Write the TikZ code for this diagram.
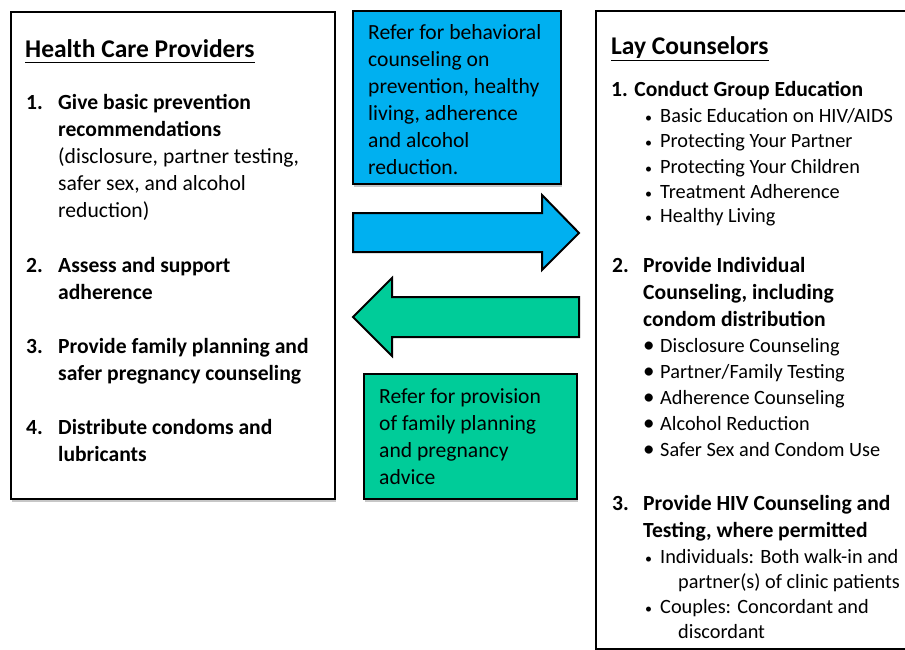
\documentclass[tikz,border=0pt]{standalone}
\usepackage{fontspec}
\setmainfont{Carlito}
\usetikzlibrary{shadows}
\definecolor{referblue}{RGB}{0,176,240}
\definecolor{refergreen}{RGB}{0,204,153}
\newcommand\bodysize{\fontsize{21.6}{27}\selectfont}
\newcommand\listsize{\fontsize{20.3}{25.3}\selectfont}
\newcommand\headsize{\fontsize{25.5}{27}\selectfont}

\begin{document}
\begin{tikzpicture}[x=1pt,y=-1pt,
  panel/.style={draw=black, line width=2pt, fill=white, anchor=north west, inner sep=0pt},
  boxshadow/.style={drop shadow={shadow xshift=1pt, shadow yshift=-2.5pt, fill=black, opacity=0.22}},
  blockarrow/.style={draw=black, line width=2pt, line join=miter},
  hd/.style={anchor=base west, inner sep=0pt, font=\headsize\bfseries},
  num/.style={anchor=base west, inner sep=0pt, font=\bodysize\bfseries},
  ln/.style={anchor=base west, inner sep=0pt, font=\bodysize, text width=#1, align=flush left},
  li/.style={anchor=base west, inner sep=0pt, font=\listsize},
  dot/.style={anchor=base west, inner sep=0pt, font=\fontsize{14}{25}\selectfont},
  bigdot/.style={anchor=base west, inner sep=0pt, font=\fontsize{23}{25}\selectfont},
  uline/.style={line width=1.5pt}
]
\useasboundingbox (0,0) rectangle (905,650);
\clip (0,0) rectangle (905,650);

% ---- panels ----
\node[panel, boxshadow, minimum width=324, minimum height=487] (hcp) at (10,11) {};
\node[panel, minimum width=330, minimum height=638] (lay) at (595,10) {};
\node[panel, boxshadow, fill=referblue, minimum width=208, minimum height=173] (behav) at (352,10) {};
\node[panel, boxshadow, fill=refergreen, minimum width=213, minimum height=125] (famplan) at (363,373) {};

% ---- block arrows ----
\coordinate (toLay) at (579,233);
\coordinate (toHcp) at (353,317);
\draw[blockarrow, fill=referblue] (353,213) -- (542,213) -- (542,195) -- (toLay)
  -- (542,270) -- (542,252) -- (353,252) -- cycle;
\draw[blockarrow, fill=refergreen] (579,297) -- (392,297) -- (392,278) -- (toHcp)
  -- (392,356) -- (392,337) -- (579,337) -- cycle;

% ---- referral texts ----
\node[ln=190pt] (behavTxt) at (368,40) {Refer for behavioral\\counseling on\\prevention, healthy\\living, adherence\\and alcohol\\reduction.};
\node[ln=195pt] (famTxt) at (379,403) {Refer for provision\\of family planning\\and pregnancy\\advice};

% ---- Health Care Providers ----
\node[hd] (hcpTitle) at (25,58) {Health Care Providers};
\draw[uline] ([yshift=-4.5pt]hcpTitle.base west) -- ([yshift=-4.5pt]hcpTitle.base east);

\node[num] (h1n) at (26,110) {1.};
\node[ln=280pt] (h1) at (58,110) {\textbf{Give basic prevention}\\\textbf{recommendations}\\(disclosure, partner testing,\\safer sex, and alcohol\\reduction)};
\node[num] (h2n) at (26,272) {2.};
\node[ln=280pt, font=\bodysize\bfseries] (h2) at (58,272) {Assess and support\\adherence};
\node[num] (h3n) at (26,353) {3.};
\node[ln=280pt, font=\bodysize\bfseries] (h3) at (58,353) {Provide family planning and\\safer pregnancy counseling};
\node[num] (h4n) at (26,434) {4.};
\node[ln=280pt, font=\bodysize\bfseries] (h4) at (58,434) {Distribute condoms and\\lubricants};

% ---- Lay Counselors ----
\node[hd] (layTitle) at (611,55) {Lay Counselors};
\draw[uline] ([yshift=-5.5pt]layTitle.base west) -- ([yshift=-5.5pt]layTitle.base east);

\node[num] (l1) at (611,97) {1. Conduct Group Education};
\node[dot] (b11) at (645,123) {•}; \node[li] (l11) at (660,123) {Basic Education on HIV/AIDS};
\node[dot] (b12) at (645,148) {•}; \node[li] (l12) at (660,148) {Protecting Your Partner};
\node[dot] (b13) at (645,173) {•}; \node[li] (l13) at (660,173) {Protecting Your Children};
\node[dot] (b14) at (645,198) {•}; \node[li] (l14) at (660,198) {Treatment Adherence};
\node[dot] (b15) at (645,222) {•}; \node[li] (l15) at (660,222) {Healthy Living};

\node[num] (l2n) at (612,272) {2.};
\node[ln=250pt, font=\bodysize\bfseries] (l2) at (643,272) {Provide Individual\\Counseling, including\\condom distribution};
\node[bigdot] (b21) at (643,352) {•}; \node[li] (l21) at (660,352) {Disclosure Counseling};
\node[bigdot] (b22) at (643,378) {•}; \node[li] (l22) at (660,378) {Partner/Family Testing};
\node[bigdot] (b23) at (643,404) {•}; \node[li] (l23) at (660,404) {Adherence Counseling};
\node[bigdot] (b24) at (643,430) {•}; \node[li] (l24) at (660,430) {Alcohol Reduction};
\node[bigdot] (b25) at (643,456) {•}; \node[li] (l25) at (660,456) {Safer Sex and Condom Use};

\node[num] (l3n) at (612,510) {3.};
\node[ln=250pt, font=\bodysize\bfseries] (l3) at (643,510) {Provide HIV Counseling and\\Testing, where permitted};
\node[dot] (b31) at (645,563) {•}; \node[li] (l31) at (660,563) {Individuals: Both walk-in and};
\node[li] (l31b) at (678,588) {partner(s) of clinic patients};
\node[dot] (b32) at (645,613) {•}; \node[li] (l32) at (660,613) {Couples: Concordant and};
\node[li] (l32b) at (678,638) {discordant};
\end{tikzpicture}
\end{document}
